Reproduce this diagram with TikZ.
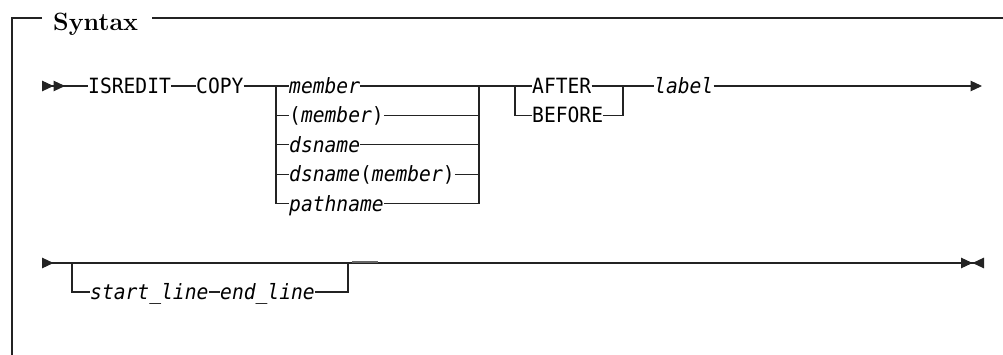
\documentclass[tikz,border=0pt]{standalone}
\usepackage{fontspec}
\usetikzlibrary{arrows.meta,positioning}
\newfontfamily\railfont[FakeStretch=0.935]{DejaVu Sans Mono}
\definecolor{railgray}{RGB}{35,35,35}

\begin{document}
\begin{tikzpicture}[
  x=1pt, y=1pt,
  >={Triangle[length=11.5pt,width=10.5pt]},
  rail/.style={line width=1.1pt, railgray},
  kw/.style={font=\railfont\fontsize{21}{24}\selectfont, inner sep=0pt,
             text height=19pt, text depth=3.8pt, anchor=west},
  var/.style={kw, font=\railfont\itshape\fontsize{21}{24}\selectfont},
  node distance=6.2pt
]
\useasboundingbox (0,0) rectangle (1003,-355);

% Frame
\node[font=\fontsize{25}{29}\selectfont\bfseries, inner sep=0pt,
      anchor=base west] (title) at (53,-31) {Syntax};
\draw[rail] (42,-18) -- (12,-18) -- (12,-355);
\draw[rail] (152,-18) -- (1003,-18);

% First line
\coordinate (s1) at (42,-86);
\node[kw] (isredit) at (88,-86) {ISREDIT};
\node[kw] (copy) at (196,-86) {COPY};
\node[var] (member) at (289,-86) {member};
\node[var, below=of member.south west, anchor=north west] (pmember) {{\upshape(}member{\upshape)}};
\node[var, below=of pmember.south west, anchor=north west] (dsname) {dsname};
\node[var, below=of dsname.south west, anchor=north west] (dsmember) {dsname{\upshape(}member{\upshape)}};
\node[var, below=of dsmember.south west, anchor=north west] (pathname) {pathname};
\coordinate (b1l) at (276,-86);
\coordinate (b1r) at (479,-86);

\node[kw] (after) at (532,-86) {AFTER};
\node[kw, below=of after.south west, anchor=north west] (before) {BEFORE};
\coordinate (b2l) at (515,-86);
\coordinate (b2r) at (623,-86);
\node[var] (label) at (654,-86) {label};
\coordinate (e1) at (982,-86);

\draw[rail, >>-] (s1) -- (isredit);
\draw[rail] (isredit) -- (copy);
\draw[rail] (copy) -- (member);
\draw[rail] (member) -- (after);
\draw[rail] (after) -- (label);
\draw[rail, ->] (label) -- (e1);
\foreach \n in {pmember,dsname,dsmember,pathname}
  \draw[rail] (b1l) |- (\n.west) (\n.east) -| (b1r);
\draw[rail] (b2l) |- (before.west) (before.east) -| (b2r);

% Second line
\coordinate (s2) at (42,-263);
\coordinate (e2) at (984,-263);
\node[var] (startline) at (90,-292) {start\_line};
\node[var] (endline) at (220,-292) {end\_line};
\coordinate (b3l) at (72,-263);
\coordinate (b3r) at (348,-263);

\draw[rail, >-><] (s2) -- (e2);
\draw[rail] (b3l) |- (startline.west);
\draw[rail] (startline) -- (endline);
\draw[rail] (endline.east) -| (b3r);
\draw[line width=1.8pt, railgray!70] (352,-262) -- (378,-262);

\end{tikzpicture}
\end{document}
